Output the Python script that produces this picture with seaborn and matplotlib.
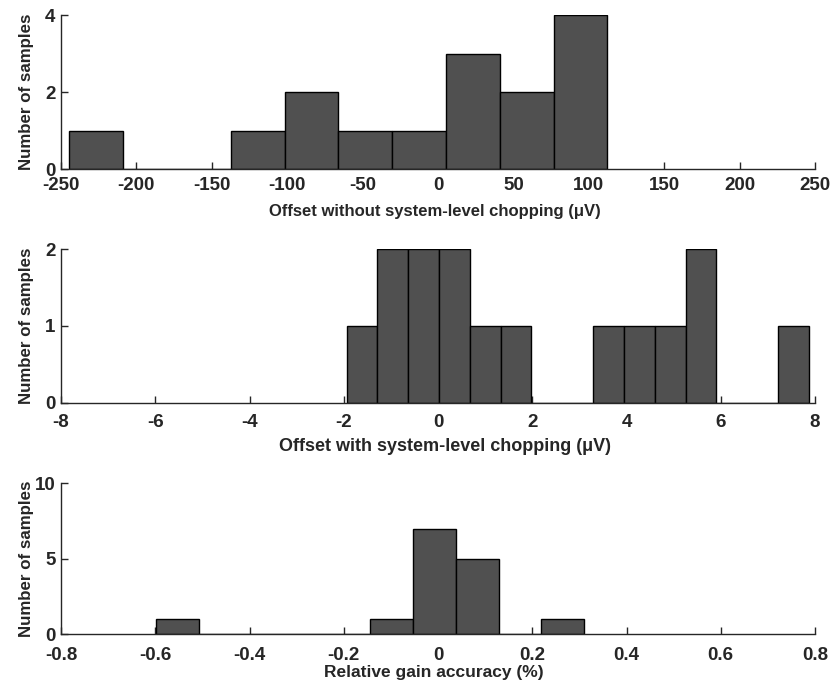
import numpy as np
import pandas as pd
import matplotlib
matplotlib.use("Agg")
import matplotlib.pyplot as plt
import seaborn as sns

sns.set_theme(style="ticks")
plt.rcParams['font.family'] = ['Liberation Sans', 'DejaVu Sans']
plt.rcParams['font.weight'] = 'bold'
plt.rcParams['axes.unicode_minus'] = False

# Panel 1: offset without system-level chopping (uV)
off1_range = (-244.5, 112.3)
off1_counts = [1, 0, 0, 1, 2, 1, 1, 3, 2, 4]
# Panel 2: offset with system-level chopping (uV)
off2_range = (-1.94, 7.87)
off2_counts = [1, 2, 2, 2, 1, 1, 0, 0, 1, 1, 1, 2, 0, 0, 1]
# Panel 3: relative gain accuracy (%)
gain_range = (-0.598, 0.310)
gain_counts = [1, 0, 0, 0, 0, 1, 7, 5, 0, 1]

xticks1 = [-250, -200, -150, -100, -50, 0, 50, 100, 150, 200, 250]
xticks2 = [-8, -6, -4, -2, 0, 2, 4, 6, 8]
xticks3 = [-0.8, -0.6, -0.4, -0.2, 0, 0.2, 0.4, 0.6, 0.8]
xtlabels3 = ['-0.8', '-0.6', '-0.4', '-0.2', '0', '0.2', '0.4', '0.6', '0.8']
yticks1 = [0, 2, 4]
yticks2 = [0, 1, 2]
yticks3 = [0, 5, 10]

xlabel1 = 'Offset without system-level chopping (\u03bcV)'
xlabel2 = 'Offset with system-level chopping (\u03bcV)'
xlabel3 = 'Relative gain accuracy (%)'
ylabel = 'Number of samples'

fig = plt.figure(figsize=(8.34, 6.95), dpi=100)
W, H = 834, 695
def axpos(l, r, top, bot):
    return [l / W, 1 - bot / H, (r - l) / W, (bot - top) / H]

ax1 = fig.add_axes(axpos(61, 815, 15.3, 169))
ax2 = fig.add_axes(axpos(61, 815, 249.3, 402.7))
ax3 = fig.add_axes(axpos(61, 815, 483.3, 634.3))

panels = [
    # ax, range, counts, xticks, xticklabels, xlim, yticks, xlabel, xlabel size, xlabel coords, tick pad
    (ax1, off1_range, off1_counts, xticks1, None, (-250, 250), yticks1, xlabel1, 12, (0.496, -0.226), 6),
    (ax2, off2_range, off2_counts, xticks2, None, (-8, 8), yticks2, xlabel2, 13, (0.509, -0.228), 8),
    (ax3, gain_range, gain_counts, xticks3, xtlabels3, (-0.8, 0.8), yticks3, xlabel3, 12.5, (0.495, -0.203), 9),
]

for ax, rng, counts, xt, xtl, xlim, yt, xl, xls, xlc, tpad in panels:
    n = len(counts)
    edges = np.linspace(rng[0], rng[1], n + 1)
    centers = (edges[:-1] + edges[1:]) / 2
    df = pd.DataFrame({'x': centers, 'w': np.asarray(counts, dtype=float)})
    sns.histplot(data=df, x='x', weights='w', bins=n, binrange=rng, ax=ax,
                 color='#505050', edgecolor='black', linewidth=1.0, alpha=1.0)
    ax.set_xlim(*xlim)
    ax.set_ylim(0, yt[-1])
    ax.set_xticks(xt)
    if xtl is not None:
        ax.set_xticklabels(xtl)
    ax.set_yticks(yt)
    sns.despine(ax=ax)
    ax.spines['left'].set_linewidth(1.0)
    ax.spines['bottom'].set_linewidth(1.0)
    ax.tick_params(direction='in', length=5, width=1, labelsize=13.5)
    ax.tick_params(axis='x', pad=tpad)
    ax.tick_params(axis='y', pad=4)
    for lab in ax.get_xticklabels() + ax.get_yticklabels():
        lab.set_fontweight('bold')
    ax.set_ylabel(ylabel, fontsize=12.2, fontweight='bold')
    ax.yaxis.set_label_coords(-0.036, 0.5)
    ax.set_xlabel(xl, fontsize=xls, fontweight='bold')
    ax.xaxis.set_label_coords(*xlc)

fig.savefig('out.png', dpi=100)
